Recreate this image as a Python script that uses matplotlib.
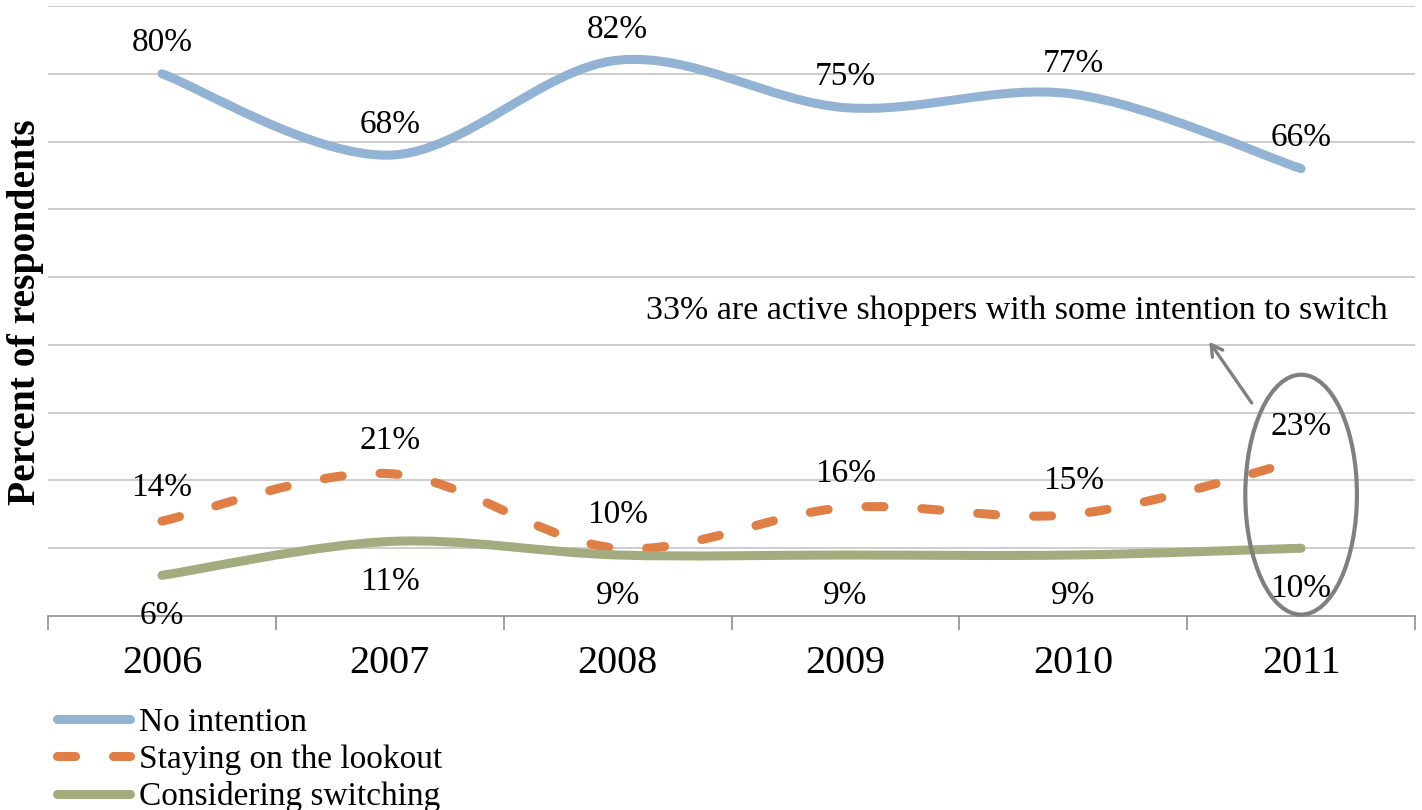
import numpy as np
import matplotlib
matplotlib.use("Agg")
import matplotlib.pyplot as plt
from matplotlib.path import Path
from matplotlib.patches import PathPatch, Ellipse
from matplotlib.lines import Line2D

years = ["2006", "2007", "2008", "2009", "2010", "2011"]
no_intention = [80, 68, 82, 75, 77, 66]
lookout = [14, 21, 10, 16, 15, 23]
considering = [6, 11, 9, 9, 9, 10]

series_names = ["No intention", "Staying on the lookout", "Considering switching"]
colors = ["#93B3D4", "#E07F45", "#A3AC7E"]
note = "33% are active shoppers with some intention to switch"

plt.rcParams['font.family'] = ['Liberation Serif', 'DejaVu Serif']


def smoothPath(x, y):
	# cubic bezier through the points (catmull-rom style), like excel's smoothed line
	pts = np.column_stack([x, y]).astype(float)
	n = len(pts)
	verts = [pts[0]]
	codes = [Path.MOVETO]
	for i in range(n - 1):
		p0 = pts[i - 1] if i > 0 else pts[i]
		p1 = pts[i]
		p2 = pts[i + 1]
		p3 = pts[i + 2] if i + 2 < n else pts[i + 1]
		c1 = p1 + (p2 - p0) / 6.0
		c2 = p2 - (p3 - p1) / 6.0
		verts += [c1, c2, p2]
		codes += [Path.CURVE4] * 3
	return Path(verts, codes)


fig = plt.figure(figsize=(14.22, 8.1), dpi=100)
ax = fig.add_axes([0.0338, 0.2395, 0.9613, 0.7531])

x = np.arange(len(years))
lw = 6.5
styles = ["-", (0, (2.0, 4.2)), "-"]
allData = [no_intention, lookout, considering]

for vals, col, ls in zip(allData, colors, styles):
	patch = PathPatch(smoothPath(x, vals), fill=False, edgecolor=col, linewidth=lw,
		linestyle=ls, capstyle="round", joinstyle="round", zorder=3)
	ax.add_patch(patch)

# data labels
for xi, v in zip(x, no_intention):
	ax.annotate("%d%%" % v, (xi, v), xytext=(0, 22), textcoords="offset points",
		ha="center", va="center", fontsize=24, zorder=4)
for xi, v in zip(x, lookout):
	ax.annotate("%d%%" % v, (xi, v), xytext=(0, 24), textcoords="offset points",
		ha="center", va="center", fontsize=24, zorder=4)
for xi, v in zip(x, considering):
	ax.annotate("%d%%" % v, (xi, v), xytext=(0, -29), textcoords="offset points",
		ha="center", va="center", fontsize=24, zorder=4)

ax.set_xlim(-0.5, len(years) - 0.5)
ax.set_ylim(0, 90)
ax.set_yticks(np.arange(10, 91, 10))
ax.yaxis.grid(True, color="#C0C0C0", linewidth=1.1)
ax.set_axisbelow(True)
ax.tick_params(axis="y", length=0, labelleft=False)

ax.set_xticks(x)
ax.set_xticklabels(years, fontsize=29)
ax.set_xticks(np.arange(-0.5, len(years), 1.0), minor=True)
ax.tick_params(axis="x", which="major", length=0, pad=21)
ax.tick_params(axis="x", which="minor", length=10, width=1.1, color="#868686", direction="out")

for s in ["top", "right", "left"]:
	ax.spines[s].set_visible(False)
ax.spines["bottom"].set_color("#868686")
ax.spines["bottom"].set_linewidth(1.1)

# ellipse and arrow around 2011
ell = Ellipse((5.0, 17.9), 0.49, 35.4, fill=False, edgecolor="#808080", linewidth=3, zorder=5, clip_on=False)
ax.add_patch(ell)
ax.annotate("", xy=(4.59, 40.8), xytext=(4.79, 31.1),
	arrowprops=dict(arrowstyle="->,head_length=0.8,head_width=0.45", color="#808080", lw=2.4), zorder=5)
ax.text(5.38, 45.0, note, ha="right", va="center", fontsize=24.5, clip_on=False)

fig.text(0.0176, 0.615, "Percent of respondents", rotation=90, ha="center", va="center",
	fontsize=28.5, fontweight="bold")

handles = [Line2D([0], [0], color=c, lw=lw, linestyle=ls, solid_capstyle="round", dash_capstyle="round")
	for c, ls in zip(colors, styles)]
fig.legend(handles, series_names, loc="upper left", bbox_to_anchor=(0.04, 0.127), frameon=False,
	fontsize=24, handlelength=2.2, handletextpad=0.25, labelspacing=0.2, borderpad=0, borderaxespad=0)

fig.savefig("out.png", dpi=100)
